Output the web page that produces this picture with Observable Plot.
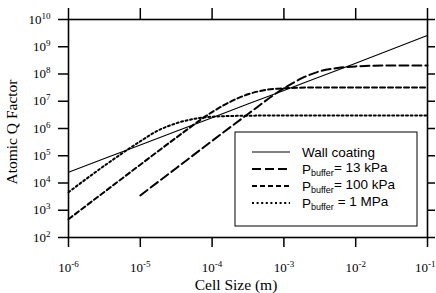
<!DOCTYPE html>
<html><head><meta charset="utf-8">
<script src="https://cdn.jsdelivr.net/npm/d3@7"></script>
<script src="https://cdn.jsdelivr.net/npm/@observablehq/plot@0.6"></script>
<style>
html,body{margin:0;padding:0;background:#fff;}
#chart svg{display:block;}
</style>
</head><body><div id="chart"></div>
<script>
// ---- data ----
const seriesNames = ["Wall coating", "13 kPa", "100 kPa", "1 MPa"];
const xTickExps = [-6, -5, -4, -3, -2, -1];
const yTickExps = [2, 3, 4, 5, 6, 7, 8, 9, 10];

const wallX = [1e-6, 1e-5, 1e-4, 1e-3, 1e-2, 1e-1];
const wallQ = [2.5e4, 2.5e5, 2.5e6, 2.5e7, 2.5e8, 2.6e9];

const p13X = [1e-5, 3.16e-5, 1e-4, 3.16e-4, 1e-3, 1.78e-3, 3.16e-3, 5.6e-3, 1e-2, 3.16e-2, 1e-1];
const p13Q = [3.5e3, 3.5e4, 3.5e5, 3.4e6, 3.0e7, 7.0e7, 1.26e8, 1.65e8, 1.9e8, 2.05e8, 2.05e8];

const p100X = [1e-6, 3.16e-6, 1e-5, 3.16e-5, 1e-4, 1.78e-4, 3.16e-4, 5.6e-4, 1e-3, 3.16e-3, 1e-1];
const p100Q = [4.7e2, 4.7e3, 4.7e4, 4.6e5, 4.0e6, 9.5e6, 1.8e7, 2.6e7, 3.0e7, 3.2e7, 3.2e7];

const p1MX = [1e-6, 3.16e-6, 1e-5, 1.78e-5, 3.16e-5, 5.6e-5, 1e-4, 3.16e-4, 1e-3, 1e-1];
const p1MQ = [4.6e3, 4.3e4, 3.4e5, 8.5e5, 1.55e6, 2.25e6, 2.7e6, 2.95e6, 3.0e6, 3.0e6];

// ---- build table ----
const xs = [wallX, p13X, p100X, p1MX];
const qs = [wallQ, p13Q, p100Q, p1MQ];
const rows = [];
seriesNames.forEach((s, i) => xs[i].forEach((x, j) => rows.push({series: s, x, q: qs[i][j]})));

const styles = {
  "Wall coating": {w: 1.1, dash: null},
  "13 kPa": {w: 2, dash: "9,4"},
  "100 kPa": {w: 2, dash: "5,3"},
  "1 MPa": {w: 2, dash: "2,2.6"}
};

const xTicks = xTickExps.map(e => Math.pow(10, e));
const yTicks = yTickExps.map(e => Math.pow(10, e));
const fmt = d => "10^" + Math.round(Math.log10(d));

const W = 436, H = 293;
const mL = 68, mR = 9, mT = 19, mB = 56;

const marks = seriesNames.map(s => Plot.line(rows.filter(r => r.series === s), {
  x: "x", y: "q", stroke: "black", strokeWidth: styles[s].w,
  strokeDasharray: styles[s].dash, curve: "monotone-x"
}));

const svg = Plot.plot({
  width: W, height: H,
  marginLeft: mL, marginRight: mR, marginTop: mT, marginBottom: mB,
  style: {fontFamily: "'Liberation Serif', 'DejaVu Serif', serif", fontSize: "13px", background: "white", color: "black"},
  x: {type: "log", domain: [1e-6, 1e-1]},
  y: {type: "log", domain: [1e2, 1e10]},
  marks: [
    ...marks,
    Plot.frame({stroke: "black", strokeWidth: 1.6}),
    Plot.axisX(xTicks, {anchor: "bottom", tickSize: 10, tickPadding: 15, tickFormat: fmt, label: null, strokeWidth: 1.5, fontSize: 13}),
    Plot.axisX(xTicks, {anchor: "top", tickSize: 12, tickFormat: () => "", label: null, strokeWidth: 1.5}),
    Plot.axisY(yTicks, {anchor: "left", tickSize: 10, tickPadding: 8, tickFormat: fmt, label: null, strokeWidth: 1.5, fontSize: 13}),
    Plot.axisY(yTicks, {anchor: "right", tickSize: 7, tickFormat: () => "", label: null, strokeWidth: 1.5})
  ]
});

const ns = "http://www.w3.org/2000/svg";
// superscript exponents
svg.querySelectorAll("text").forEach(t => {
  const s = t.textContent;
  if (!s.includes("^")) return;
  const [b, e] = s.split("^");
  t.textContent = "";
  const t1 = document.createElementNS(ns, "tspan"); t1.textContent = b;
  const t2 = document.createElementNS(ns, "tspan");
  t2.setAttribute("dy", "-0.55em"); t2.setAttribute("font-size", "9px"); t2.textContent = e;
  t.appendChild(t1); t.appendChild(t2);
  if (s === "10^-1") { t.setAttribute("text-anchor", "end"); t.setAttribute("dx", "8"); }
});

const sel = d3.select(svg);
// axis titles
sel.append("text").attr("x", 236).attr("y", 290).attr("text-anchor", "middle")
  .attr("font-family", "'Liberation Serif', serif").attr("font-size", 15.5).attr("fill", "black")
  .text("Cell Size (m)");
sel.append("text").attr("transform", "translate(17,132) rotate(-90)").attr("text-anchor", "middle")
  .attr("font-family", "'Liberation Serif', serif").attr("font-size", 15.5).attr("fill", "black")
  .text("Atomic Q Factor");

// legend
const lg = sel.append("g").attr("font-family", "'Liberation Sans', Arial, sans-serif").attr("font-size", 13.5)
  .attr("fill", "black").attr("text-anchor", "start");
lg.append("rect").attr("x", 235).attr("y", 132).attr("width", 182).attr("height", 94)
  .attr("fill", "white").attr("stroke", "black").attr("stroke-width", 1);
const legendRows = [152, 169, 186, 203];
seriesNames.forEach((s, i) => {
  const y = legendRows[i];
  lg.append("line").attr("x1", 252).attr("x2", 290).attr("y1", y).attr("y2", y)
    .attr("stroke", "black").attr("stroke-width", i === 0 ? 1.1 : 1.8)
    .attr("stroke-dasharray", styles[s].dash);
  const t = lg.append("text").attr("x", 302).attr("y", y + 4.5).attr("text-anchor", "start");
  if (i === 0) { t.text(s); }
  else {
    t.append("tspan").text("P");
    t.append("tspan").attr("dy", "0.3em").attr("font-size", 9).text("buffer");
    t.append("tspan").attr("dy", "-0.3em").text((i === 3 ? " = " : "= ") + s);
  }
});

document.getElementById("chart").appendChild(svg);
</script>
</body></html>
